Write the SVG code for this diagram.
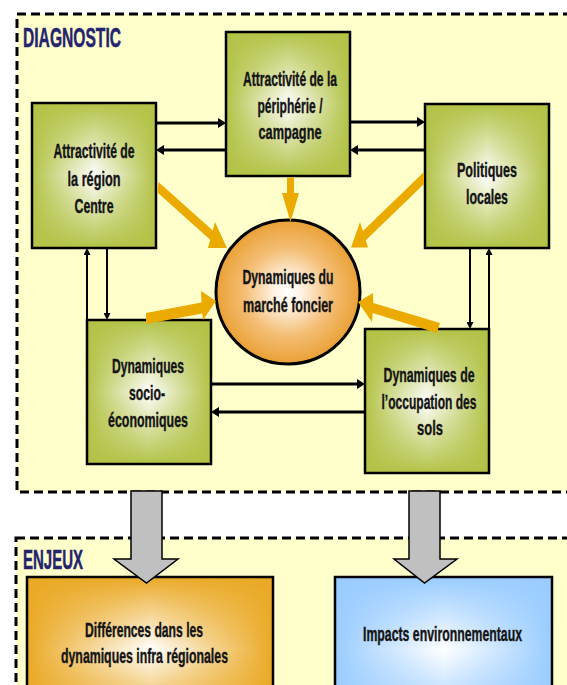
<svg xmlns="http://www.w3.org/2000/svg" width="567" height="685" viewBox="0 0 567 685">
<style>
.zone{fill:#FFFFCC;stroke:#000;stroke-width:3;stroke-dasharray:9 5}
.title{font-family:"Liberation Sans",Arial,sans-serif;font-weight:bold;font-size:27px;fill:#24246E;stroke:#24246E;stroke-width:0.5}
.bg{fill:#fff}
.green{fill:#B3C246}
.orange{fill:#EAA925}
.blue{fill:#99CCFF}
.border{fill:none;stroke:#000;stroke-width:2.5}
.t{font-family:"Liberation Sans",Arial,sans-serif;font-weight:bold;font-size:21px;fill:#141414;stroke:#141414;stroke-width:0.4;text-anchor:middle}
.lk{fill:none;stroke:#000;stroke-width:3}
.lks{fill:none;stroke:#000;stroke-width:2}
.gold{fill:#EAAA00}
.gray{fill:#C0C0C0;stroke:#000;stroke-width:1.5;stroke-linejoin:miter}
</style>
<defs>
<linearGradient id="fh" x1="0" y1="0" x2="1" y2="0">
<stop offset="0" stop-color="#fff" stop-opacity="1"/>
<stop offset="0.12" stop-color="#fff" stop-opacity="0.75"/>
<stop offset="0.5" stop-color="#fff" stop-opacity="0"/>
<stop offset="0.88" stop-color="#fff" stop-opacity="0.75"/>
<stop offset="1" stop-color="#fff" stop-opacity="1"/>
</linearGradient>
<linearGradient id="fv" x1="0" y1="0" x2="0" y2="1">
<stop offset="0" stop-color="#fff" stop-opacity="1"/>
<stop offset="0.12" stop-color="#fff" stop-opacity="0.75"/>
<stop offset="0.5" stop-color="#fff" stop-opacity="0"/>
<stop offset="0.88" stop-color="#fff" stop-opacity="0.75"/>
<stop offset="1" stop-color="#fff" stop-opacity="1"/>
</linearGradient>
<mask id="fade" maskContentUnits="objectBoundingBox">
<rect width="1" height="1" fill="#000"/>
<rect width="1" height="1" fill="url(#fh)"/>
<rect width="1" height="1" fill="url(#fv)"/>
</mask>
<radialGradient id="gc" cx="0.5" cy="0.5" r="0.5">
<stop offset="0" stop-color="#FFFFFF"/>
<stop offset="0.2" stop-color="#FEF2E2"/>
<stop offset="0.6" stop-color="#F4BE76"/>
<stop offset="1" stop-color="#EAA136"/>
</radialGradient>
<marker id="ah" viewBox="0 0 8 10" refX="2" refY="5" markerWidth="8" markerHeight="10" markerUnits="userSpaceOnUse" orient="auto">
<path d="M0,0 L8,5 L0,10 z" fill="#000"/>
</marker>
<marker id="ahs" viewBox="0 0 7 7" refX="1.5" refY="3.5" markerWidth="7" markerHeight="7" markerUnits="userSpaceOnUse" orient="auto">
<path d="M0,0 L7,3.5 L0,7 z" fill="#000"/>
</marker>
</defs>
<rect width="567" height="685" fill="#fff"/>

<g id="zone-diagnostic">
<rect class="zone" x="17" y="14" width="600" height="478"/>
<text class="title" x="23" y="47" textLength="98" lengthAdjust="spacingAndGlyphs">DIAGNOSTIC</text>
</g>
<g id="zone-enjeux">
<rect class="zone" x="16" y="538" width="600" height="200"/>
<text class="title" x="23" y="569" textLength="60" lengthAdjust="spacingAndGlyphs">ENJEUX</text>
</g>

<g id="n-region-centre">
<rect class="bg" x="32" y="103" width="124" height="145"/>
<rect class="green" x="32" y="103" width="124" height="145" mask="url(#fade)"/>
<rect class="border" x="32" y="103" width="124" height="145"/>
<text class="t" x="94" y="158" textLength="81" lengthAdjust="spacingAndGlyphs">Attractivité de</text>
<text class="t" x="94" y="186" textLength="53" lengthAdjust="spacingAndGlyphs">la région</text>
<text class="t" x="94" y="213" textLength="39" lengthAdjust="spacingAndGlyphs">Centre</text>
</g>

<g id="n-peripherie">
<rect class="bg" x="226" y="32" width="124" height="144"/>
<rect class="green" x="226" y="32" width="124" height="144" mask="url(#fade)"/>
<rect class="border" x="226" y="32" width="124" height="144"/>
<text class="t" x="290" y="86" textLength="94" lengthAdjust="spacingAndGlyphs">Attractivité de la</text>
<text class="t" x="290" y="113" textLength="65" lengthAdjust="spacingAndGlyphs">périphérie /</text>
<text class="t" x="290" y="139" textLength="63" lengthAdjust="spacingAndGlyphs">campagne</text>
</g>

<g id="n-politiques">
<rect class="bg" x="425" y="104" width="124" height="144"/>
<rect class="green" x="425" y="104" width="124" height="144" mask="url(#fade)"/>
<rect class="border" x="425" y="104" width="124" height="144"/>
<text class="t" x="487" y="177" textLength="60" lengthAdjust="spacingAndGlyphs">Politiques</text>
<text class="t" x="487" y="204" textLength="42" lengthAdjust="spacingAndGlyphs">locales</text>
</g>

<g id="n-marche-foncier">
<circle cx="288" cy="292" r="72" fill="url(#gc)" stroke="#000" stroke-width="3"/>
<text class="t" x="288" y="284" textLength="91" lengthAdjust="spacingAndGlyphs">Dynamiques du</text>
<text class="t" x="288" y="312" textLength="90" lengthAdjust="spacingAndGlyphs">marché foncier</text>
</g>

<g id="n-socio-eco">
<rect class="bg" x="87" y="320" width="124" height="144"/>
<rect class="green" x="87" y="320" width="124" height="144" mask="url(#fade)"/>
<rect class="border" x="87" y="320" width="124" height="144"/>
<text class="t" x="148" y="373" textLength="72" lengthAdjust="spacingAndGlyphs">Dynamiques</text>
<text class="t" x="147" y="400" textLength="36" lengthAdjust="spacingAndGlyphs">socio-</text>
<text class="t" x="148" y="427" textLength="80" lengthAdjust="spacingAndGlyphs">économiques</text>
</g>

<g id="n-occupation-sols">
<rect class="bg" x="365" y="329" width="124" height="144"/>
<rect class="green" x="365" y="329" width="124" height="144" mask="url(#fade)"/>
<rect class="border" x="365" y="329" width="124" height="144"/>
<text class="t" x="429" y="382" textLength="91" lengthAdjust="spacingAndGlyphs">Dynamiques de</text>
<text class="t" x="429" y="409" textLength="95" lengthAdjust="spacingAndGlyphs">l’occupation des</text>
<text class="t" x="430" y="435" textLength="26" lengthAdjust="spacingAndGlyphs">sols</text>
</g>

<g id="n-differences">
<rect class="bg" x="27" y="577" width="246" height="146"/>
<rect class="orange" x="27" y="577" width="246" height="146" mask="url(#fade)"/>
<rect class="border" x="27" y="577" width="246" height="146"/>
<text class="t" x="144" y="637" textLength="118" lengthAdjust="spacingAndGlyphs">Différences dans les</text>
<text class="t" x="144.5" y="663" textLength="167" lengthAdjust="spacingAndGlyphs">dynamiques infra régionales</text>
</g>

<g id="n-impacts">
<rect class="bg" x="335" y="577" width="217" height="146"/>
<rect class="blue" x="335" y="577" width="217" height="146" mask="url(#fade)"/>
<rect class="border" x="335" y="577" width="217" height="146"/>
<text class="t" x="442.5" y="641" textLength="159" lengthAdjust="spacingAndGlyphs">Impacts environnementaux</text>
</g>

<g id="connectors">
<path class="lk" d="M156,123 H220" marker-end="url(#ah)"/>
<path class="lk" d="M226,150 H162" marker-end="url(#ah)"/>
<path class="lk" d="M350,122 H419" marker-end="url(#ah)"/>
<path class="lk" d="M425,150 H356" marker-end="url(#ah)"/>
<path class="lk" d="M211,384 H359" marker-end="url(#ah)"/>
<path class="lk" d="M365,412 H217" marker-end="url(#ah)"/>
<path class="lks" d="M87,320 V253.5" marker-end="url(#ahs)"/>
<path class="lks" d="M107,248 V314.5" marker-end="url(#ahs)"/>
<path class="lks" d="M470,248 V323.5" marker-end="url(#ahs)"/>
<path class="lks" d="M489,329 V253.5" marker-end="url(#ahs)"/>
<polygon class="gold" points="158.5,182 212.7,230.4 215,222 227,248 208,248 210.2,239.8 157.5,192.5"/>
<polygon class="gold" points="287,177.5 294,177.5 294,193 299,193 290.5,222 282,193 287,193"/>
<polygon class="gold" points="424,172 362.9,231.1 360,222 351,247.5 368,247.5 365.8,240.3 424,184"/>
<polygon class="gold" points="146,313 201.5,302.5 201,291 216,301 203,320 202.3,313.5 146,324"/>
<polygon class="gold" points="440,323 373.3,303 373,293 358,302 372,322 372.7,313 437,333"/>
<polygon class="gray" points="131,491 162,491 162,559 178,559 146.5,583 114,559 131,559"/>
<polygon class="gray" points="409,491 440,491 440,559 457,559 424.5,583 394,559 409,559"/>
</g>
</svg>
